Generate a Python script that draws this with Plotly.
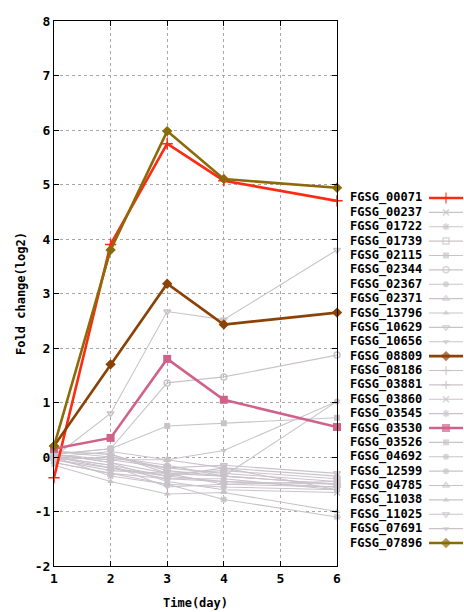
import plotly.graph_objects as go

days = [1, 2, 3, 4, 6]

genes = ["FGSG_00071", "FGSG_00237", "FGSG_01722", "FGSG_01739", "FGSG_02115",
         "FGSG_02344", "FGSG_02367", "FGSG_02371", "FGSG_13796", "FGSG_10629",
         "FGSG_10656", "FGSG_08809", "FGSG_08186", "FGSG_03881", "FGSG_03860",
         "FGSG_03545", "FGSG_03530", "FGSG_03526", "FGSG_04692", "FGSG_12599",
         "FGSG_04785", "FGSG_11038", "FGSG_11025", "FGSG_07691", "FGSG_07896"]

FGSG_00071 = [-0.38, 3.9, 5.75, 5.07, 4.7]
FGSG_00237 = [0.05, -0.1, -0.3, -0.35, -0.5]
FGSG_01722 = [-0.05, -0.2, -0.4, -0.45, -0.55]
FGSG_01739 = [0.1, 0.0, -0.2, -0.3, -0.45]
FGSG_02115 = [0.0, -0.15, -0.35, -0.2, -0.6]
FGSG_02344 = [0.05, 0.15, 1.36, 1.47, 1.87]
FGSG_02367 = [-0.1, -0.3, -0.5, -0.55, -0.6]
FGSG_02371 = [0.0, -0.05, -0.05, -0.2, -0.35]
FGSG_13796 = [-0.15, -0.45, -0.68, -0.65, -1.0]
FGSG_10629 = [0.0, 0.8, 2.67, 2.52, 3.8]
FGSG_10656 = [0.0, 0.1, -0.05, 0.12, 1.02]
FGSG_08809 = [0.2, 1.7, 3.18, 2.43, 2.65]
FGSG_08186 = [0.1, 0.05, -0.25, -0.35, -0.5]
FGSG_03881 = [-0.05, -0.25, -0.3, -0.5, -0.55]
FGSG_03860 = [0.05, -0.1, -0.45, -0.6, -0.65]
FGSG_03545 = [0.0, -0.35, -0.5, -0.78, -1.1]
FGSG_03530 = [0.15, 0.35, 1.8, 1.05, 0.55]
FGSG_03526 = [0.05, 0.15, 0.57, 0.62, 0.72]
FGSG_04692 = [-0.05, 0.0, -0.15, -0.35, 1.02]
FGSG_12599 = [0.1, 0.05, -0.3, -0.25, -0.4]
FGSG_04785 = [0.0, -0.2, -0.35, -0.45, -0.5]
FGSG_11038 = [-0.1, -0.3, -0.4, -0.4, -0.6]
FGSG_11025 = [0.05, -0.05, -0.2, -0.15, -0.3]
FGSG_07691 = [0.0, -0.15, -0.55, -0.5, -0.45]
FGSG_07896 = [0.2, 3.8, 5.98, 5.1, 4.94]

values = [FGSG_00071, FGSG_00237, FGSG_01722, FGSG_01739, FGSG_02115,
          FGSG_02344, FGSG_02367, FGSG_02371, FGSG_13796, FGSG_10629,
          FGSG_10656, FGSG_08809, FGSG_08186, FGSG_03881, FGSG_03860,
          FGSG_03545, FGSG_03530, FGSG_03526, FGSG_04692, FGSG_12599,
          FGSG_04785, FGSG_11038, FGSG_11025, FGSG_07691, FGSG_07896]

symbols = ["cross-thin", "x-thin", "asterisk", "square-open", "square",
           "circle-open", "circle", "triangle-up-open", "triangle-up", "triangle-down-open",
           "triangle-down", "diamond", "cross-thin", "cross-thin", "x-thin",
           "asterisk", "square", "square", "circle", "circle",
           "triangle-up-open", "triangle-up", "triangle-down-open", "triangle-down", "diamond"]

highlight = {"FGSG_00071": "#ff2a12", "FGSG_08809": "#8b4207",
             "FGSG_03530": "#d0628a", "FGSG_07896": "#8c6a0a"}
GRAY = "#c9c3c9"

y_ticks = [-2, -1, 0, 1, 2, 3, 4, 5, 6, 7, 8]
y_ticktext = ["-2", "-1", "0", "1", "2", "3", "4", "5", "6", "7", "8"]
x_ticks = [1, 2, 3, 4, 5, 6]
x_ticktext = ["1", "2", "3", "4", "5", "6"]

FONT = "DejaVu Sans Mono"


def bold(t):
    return "<b>" + t + "</b>"


fig = go.Figure()

order = [i for i, g in enumerate(genes) if g not in highlight] + \
        [i for i, g in enumerate(genes) if g in highlight]

for i in order:
    g = genes[i]
    hl = g in highlight
    col = highlight.get(g, GRAY)
    sym = symbols[i]
    open_sym = sym.endswith("-open") or sym in ("cross-thin", "x-thin", "asterisk")
    fig.add_trace(go.Scatter(
        x=days, y=values[i], mode="lines+markers", name=g, showlegend=False,
        line=dict(color=col, width=2.6 if hl else 1.1),
        marker=dict(symbol=sym, size=8 if hl else 6, color=col,
                    line=dict(color=col, width=1.5 if open_sym else 0)),
        cliponaxis=False, xaxis="x", yaxis="y"))

L, R, T, B = 54, 0, 21, 46
W, H = 464, 612
pw = W - L - R
main_right = (337 - L) / pw
text_right = (424 - L) / pw

# custom legend (text left, sample right)
for i, g in enumerate(genes):
    hl = g in highlight
    col = highlight.get(g, GRAY)
    sym = symbols[i]
    open_sym = sym.endswith("-open") or sym in ("cross-thin", "x-thin", "asterisk")
    s = 8 if hl else 6
    fig.add_trace(go.Scatter(
        x=[0, 0.5, 1], y=[i, i, i], mode="lines+markers", showlegend=False,
        hoverinfo="skip",
        line=dict(color=col, width=2.6 if hl else 1.1),
        marker=dict(symbol=sym, size=[0, s, 0], color=col,
                    line=dict(color=col, width=1.5 if open_sym else 0)),
        xaxis="x2", yaxis="y2", cliponaxis=False))
    fig.add_annotation(x=text_right, y=i, xref="paper", yref="y2", text=bold(g),
                       showarrow=False, xanchor="right", yanchor="middle",
                       font=dict(family=FONT, size=12, color="black"))

axis_common = dict(showgrid=True, gridcolor="#a8a8a8", griddash="dot", gridwidth=1,
                   showline=True, linecolor="black", linewidth=1.2, mirror="allticks",
                   ticks="inside", ticklen=5, tickcolor="black", zeroline=False,
                   automargin=False,
                   tickfont=dict(family=FONT, size=13, color="black"))

fig.update_layout(
    width=W, height=H, autosize=False,
    margin=dict(l=L, r=R, t=T, b=B),
    paper_bgcolor="white", plot_bgcolor="white",
    font=dict(family=FONT, size=12, color="black"),
    xaxis=dict(domain=[0, main_right], range=[1, 6], tickvals=x_ticks,
               ticktext=[bold(t) for t in x_ticktext],
               title=dict(text=bold("Time(day)"), standoff=13,
                          font=dict(family=FONT, size=12, color="black")),
               **axis_common),
    yaxis=dict(domain=[0, 1], range=[-2, 8], tickvals=y_ticks,
               ticktext=[bold(t) for t in y_ticktext],
               title=dict(text=bold("Fold change(log2)"), standoff=6,
                          font=dict(family=FONT, size=12, color="black")),
               **axis_common),
    xaxis2=dict(domain=[(429 - L) / pw, (463 - L) / pw], range=[0, 1], visible=False,
                anchor="y2"),
    yaxis2=dict(domain=[(566 - 550.2) / 545, (566 - 190.8) / 545],
                range=[24.5, -0.5], visible=False, anchor="x2"),
    showlegend=False,
)

fig.write_html("out.html", config={"displayModeBar": False},
               post_script="document.body.style.margin='0';")
